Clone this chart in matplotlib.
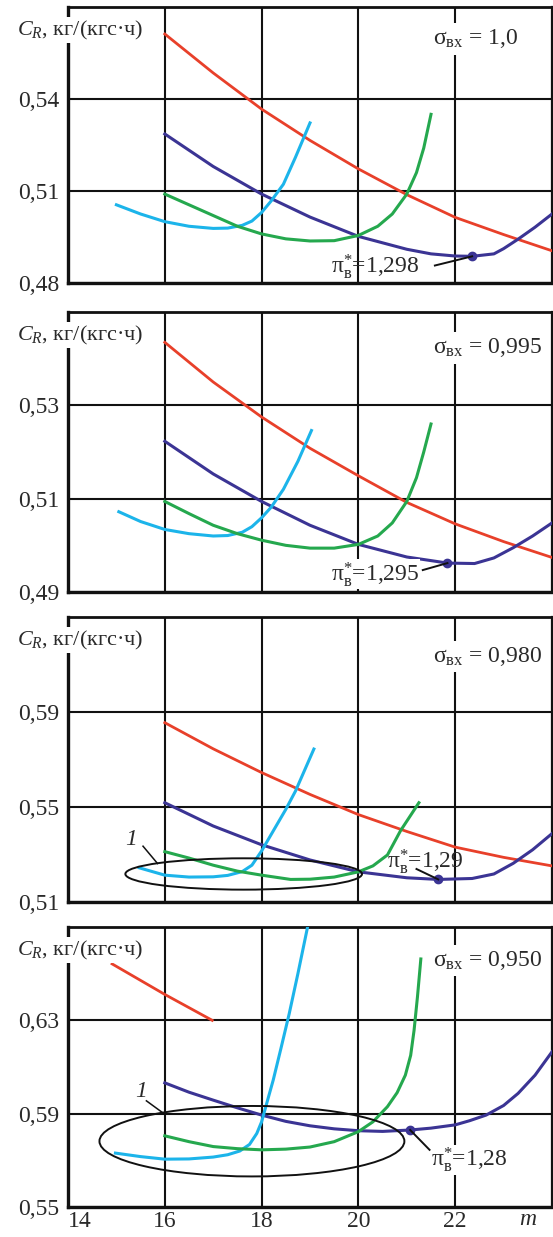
import numpy as np
import matplotlib
matplotlib.use("Agg")
import matplotlib.pyplot as plt
from matplotlib.patches import Ellipse

plt.rcParams['font.family'] = ['Liberation Serif', 'DejaVu Serif']
plt.rcParams['mathtext.fontset'] = 'custom'
plt.rcParams['mathtext.rm'] = 'Liberation Serif'
plt.rcParams['mathtext.it'] = 'Liberation Serif:italic'

# colours of the four families of curves
RED = '#e8402a'
BLUE = '#3b3494'
CYAN = '#1cb4ea'
GREEN = '#25a84e'
TXT = '#2a2a2a'

# ---- data (m, C_R) ----
# panel 1: sigma = 1,0
m_red_1 = [16, 17, 18, 19, 20, 21, 22, 23, 24]
cr_red_1 = [0.5612, 0.5485, 0.5367, 0.5265, 0.5172, 0.5088, 0.5014, 0.4958, 0.4905]
m_blue_1 = [16, 17, 18, 19, 20, 21, 21.5, 22, 22.35, 22.8, 23.0, 23.3, 23.65, 24]
cr_blue_1 = [0.5286, 0.5180, 0.5090, 0.5015, 0.4952, 0.4910, 0.4895, 0.4888, 0.4887,
             0.4895, 0.4912, 0.4943, 0.4982, 0.5025]
m_cyan_1 = [15.0, 15.5, 16, 16.5, 17, 17.3, 17.6, 17.8, 18, 18.2, 18.45, 18.7, 19.0]
cr_cyan_1 = [0.5055, 0.5025, 0.5000, 0.4985, 0.4978, 0.4979, 0.4988, 0.5002, 0.5030,
             0.5068, 0.5122, 0.5210, 0.5322]
m_green_1 = [16, 16.5, 17, 17.5, 18, 18.5, 19, 19.5, 20, 20.4, 20.7, 21.0, 21.2, 21.35, 21.5]
cr_green_1 = [0.5090, 0.5055, 0.5020, 0.4985, 0.4960, 0.4944, 0.4937, 0.4938, 0.4955,
              0.4985, 0.5025, 0.5090, 0.5160, 0.5240, 0.5350]
opt_1 = (22.35, 0.4887)

# panel 2: sigma = 0,995
m_red_2 = [16, 17, 18, 19, 20, 21, 22, 23, 24]
cr_red_2 = [0.5435, 0.5350, 0.5275, 0.5208, 0.5149, 0.5092, 0.5046, 0.5008, 0.4974]
m_blue_2 = [16, 17, 18, 19, 20, 21, 21.84, 22.4, 22.8, 23.2, 23.6, 24]
cr_blue_2 = [0.5223, 0.5153, 0.5094, 0.5043, 0.5002, 0.4975, 0.4962, 0.4961, 0.4973,
             0.4995, 0.5020, 0.5048]
m_cyan_2 = [15.05, 15.5, 16, 16.5, 17, 17.3, 17.6, 17.8, 18, 18.2, 18.45, 18.75, 19.03]
cr_cyan_2 = [0.5072, 0.5051, 0.5034, 0.5025, 0.5020, 0.5021, 0.5028, 0.5040, 0.5059,
             0.5082, 0.5120, 0.5180, 0.5246]
m_green_2 = [16, 16.5, 17, 17.5, 18, 18.5, 19, 19.5, 20, 20.4, 20.7, 21, 21.2, 21.35, 21.5]
cr_green_2 = [0.5094, 0.5068, 0.5043, 0.5025, 0.5011, 0.5000, 0.4994, 0.4994, 0.5002,
              0.5020, 0.5048, 0.5094, 0.5145, 0.5200, 0.5260]
opt_2 = (21.84, 0.4962)

# panel 3: sigma = 0,980
m_red_3 = [16, 17, 18, 19, 20, 21, 22, 23, 24]
cr_red_3 = [0.5855, 0.5745, 0.5645, 0.5553, 0.5468, 0.5397, 0.5331, 0.5288, 0.5252]
m_blue_3 = [16, 17, 18, 19, 20, 21, 21.65, 22.35, 22.8, 23.2, 23.6, 24]
cr_blue_3 = [0.5518, 0.5420, 0.5341, 0.5277, 0.5227, 0.5202, 0.5195, 0.5199, 0.5218,
             0.5263, 0.5320, 0.5388]
m_cyan_3 = [15.47, 16, 16.5, 17, 17.3, 17.6, 17.8, 18, 18.2, 18.5, 18.7, 19.08]
cr_cyan_3 = [0.5244, 0.5213, 0.5205, 0.5206, 0.5212, 0.5228, 0.5255, 0.5315, 0.5385,
             0.5490, 0.5567, 0.5744]
m_green_3 = [16, 16.5, 17, 17.5, 18, 18.6, 19, 19.5, 20, 20.3, 20.6, 20.87, 21.25]
cr_green_3 = [0.5312, 0.5285, 0.5255, 0.5230, 0.5213, 0.5195, 0.5196, 0.5205, 0.5227,
              0.5252, 0.5298, 0.5400, 0.5518]
opt_3 = (21.65, 0.5195)

# panel 4: sigma = 0,950
m_red_4 = [14.91, 16, 16.98]
cr_red_4 = [0.6542, 0.6411, 0.6300]
m_blue_4 = [16, 16.5, 17, 17.5, 18, 18.5, 19, 19.5, 20, 20.5, 21.07, 21.5, 22, 22.3,
            22.64, 23, 23.3, 23.65, 24]
cr_blue_4 = [0.6032, 0.5992, 0.5958, 0.5925, 0.5894, 0.5867, 0.5848, 0.5835, 0.5827,
             0.5824, 0.5830, 0.5838, 0.5852, 0.5870, 0.5894, 0.5935, 0.5987, 0.6065, 0.6165]
m_cyan_4 = [14.98, 15.5, 16, 16.5, 17, 17.3, 17.55, 17.75, 17.9, 18, 18.1, 18.24, 18.4,
            18.57, 18.75, 18.95]
cr_cyan_4 = [0.5731, 0.5716, 0.5705, 0.5706, 0.5714, 0.5724, 0.5740, 0.5768, 0.5815,
             0.5865, 0.5940, 0.6044, 0.6180, 0.6328, 0.6500, 0.6700]
m_green_4 = [16, 16.5, 17, 17.5, 18, 18.5, 19, 19.5, 20, 20.3, 20.6, 20.8, 20.97, 21.08,
             21.15, 21.22, 21.29]
cr_green_4 = [0.5805, 0.5780, 0.5759, 0.5750, 0.5745, 0.5748, 0.5757, 0.5780, 0.5823,
              0.5865, 0.5930, 0.5990, 0.6065, 0.6150, 0.6257, 0.6400, 0.6563]
opt_4 = (21.07, 0.5830)

x_ticks = [14, 16, 18, 20, 22]
y_ticks = [[0.48, 0.51, 0.54], [0.49, 0.51, 0.53], [0.51, 0.55, 0.59], [0.55, 0.59, 0.63]]
y_lims = [(0.48, 0.57), (0.49, 0.55), (0.51, 0.63), (0.55, 0.67)]
sigma_labels = ['1,0', '0,995', '0,980', '0,950']
pi_labels = ['1,298', '1,295', '1,29', '1,28']

# panel placement in pixels (top, bottom)
W, H = 553, 1237
panel_px = [(7, 283), (312, 592), (617, 902), (927, 1207)]
left_px, right_px = 68, 552

fig = plt.figure(figsize=(W / 100, H / 100), dpi=100)

panels = [
    (m_red_1, cr_red_1, m_blue_1, cr_blue_1, m_cyan_1, cr_cyan_1, m_green_1, cr_green_1, opt_1),
    (m_red_2, cr_red_2, m_blue_2, cr_blue_2, m_cyan_2, cr_cyan_2, m_green_2, cr_green_2, opt_2),
    (m_red_3, cr_red_3, m_blue_3, cr_blue_3, m_cyan_3, cr_cyan_3, m_green_3, cr_green_3, opt_3),
    (m_red_4, cr_red_4, m_blue_4, cr_blue_4, m_cyan_4, cr_cyan_4, m_green_4, cr_green_4, opt_4),
]

# annotation placement: (text x, text y, line start x, line start y)
pi_pos = [(20.35, 0.4852, 21.58, 0.4857), (20.35, 0.4938, 21.33, 0.4947),
          (21.38, 0.5272, 21.2, 0.5239), (22.3, 0.5702, 21.47, 0.5745)]
sigma_y = [0.5596, 0.5423, 0.6134, 0.6556]

for i, (mr, cr, mb, cb, mc, cc, mg, cg, opt) in enumerate(panels):
    top, bot = panel_px[i]
    ax = fig.add_axes([left_px / W, (H - bot) / H, (right_px - left_px) / W, (bot - top) / H])
    ax.set_xlim(14, 24)
    ax.set_ylim(*y_lims[i])
    ax.set_xticks([16, 18, 20, 22])
    ax.grid(True, color='#111111', lw=1.5, zorder=0)
    ax.set_yticks(y_ticks[i])
    ax.set_yticklabels([('%.2f' % v).replace('.', ',') for v in y_ticks[i]])
    ax.tick_params(length=0, labelsize=17, colors=TXT, pad=6)
    for s in ax.spines.values():
        s.set_color('#111111')
        s.set_linewidth(1.6)
    ax.spines['left'].set_linewidth(2.4)
    ax.spines['bottom'].set_linewidth(2.4)
    ax.spines['top'].set_linewidth(2.0)

    ax.plot(mr, cr, color=RED, lw=2.0, zorder=3)
    ax.plot(mb, cb, color=BLUE, lw=2.2, zorder=3)
    ax.plot(mc, cc, color=CYAN, lw=2.2, zorder=3)
    ax.plot(mg, cg, color=GREEN, lw=2.2, zorder=3)
    ax.plot([opt[0]], [opt[1]], 'o', color=BLUE, ms=6, zorder=4)

    tx, ty, lx, ly = pi_pos[i]
    ax.plot([lx, opt[0]], [ly, opt[1]], color='#111111', lw=1.4, zorder=4)
    ax.text(tx, ty, r'$\mathregular{\pi}^{*}_{\mathregular{в}}$=' + pi_labels[i],
            fontsize=17, color=TXT, ha='center', va='center', zorder=5,
            bbox=dict(facecolor='white', edgecolor='none', pad=0.5, alpha=0.0 if i in (0, 2) else 1.0))

    ax.text(21.55, sigma_y[i], r'σ$_{\mathregular{вх}}$ = ' + sigma_labels[i],
            fontsize=17, color=TXT, ha='left', va='center', zorder=5,
            bbox=dict(facecolor='white', edgecolor='none', pad=3))

    ax.text(-0.105, 1 - 23 / (bot - top), r'$C_R$, кг/(кгс·ч)', transform=ax.transAxes,
            fontsize=16, color=TXT, ha='left', va='center', zorder=5, clip_on=False,
            bbox=dict(facecolor='white', edgecolor='none', pad=1))

    if i == 2:
        ax.add_patch(Ellipse((17.63, 0.5218), 4.89, 0.0132, fill=False, ec='#111111', lw=1.4, zorder=4))
        ax.plot([15.55, 15.85], [0.5335, 0.5262], color='#111111', lw=1.1, zorder=4)
        ax.text(15.3, 0.5365, '1', fontsize=17, style='italic', color=TXT, ha='center', va='center')
    if i == 3:
        ax.add_patch(Ellipse((17.8, 0.5782), 6.3, 0.0302, fill=False, ec='#111111', lw=1.4, zorder=4))
        ax.plot([15.62, 15.95], [0.5955, 0.5905], color='#111111', lw=1.1, zorder=4)
        ax.text(15.52, 0.5995, '1', fontsize=17, style='italic', color=TXT, ha='center', va='center')

    if i < 3:
        ax.set_xticklabels([])
    else:
        ax.set_xticks(x_ticks)
        ax.set_xticklabels([str(v) for v in x_ticks])
        ax.tick_params(axis='x', pad=3)
        ax.get_xticklabels()[0].set_ha('left')
        ax.text(23.5, -0.045, 'm', transform=ax.get_xaxis_transform(), fontsize=17,
                style='italic', color=TXT, ha='center', va='center')

fig.savefig('out.png', dpi=100, facecolor='white')
